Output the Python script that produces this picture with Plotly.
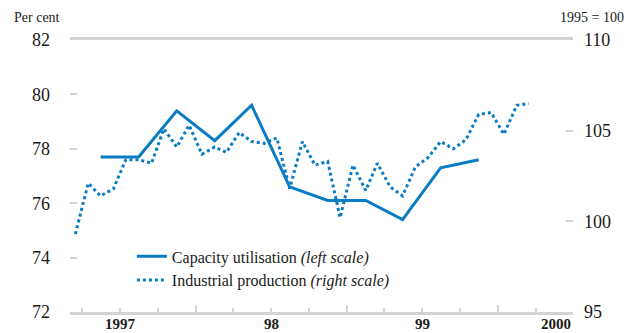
import plotly.graph_objects as go

# capacity utilisation, per cent, quarterly (mid-quarter)
cap_dates = ["1997-05-15", "1997-08-15", "1997-11-15",
             "1998-02-15", "1998-05-15", "1998-08-15", "1998-11-15",
             "1999-02-15", "1999-05-15", "1999-08-15", "1999-11-15"]
cap_vals = [77.7, 77.7, 79.4, 78.3, 79.6, 76.6, 76.1, 76.1, 75.4, 77.3, 77.6]

# industrial production, 1995 = 100, monthly
ind_dates = ["1997-%02d-15" % m for m in range(3, 13)] + \
            ["1998-%02d-15" % m for m in range(1, 13)] + \
            ["1999-%02d-15" % m for m in range(1, 13)] + \
            ["2000-%02d-15" % m for m in range(1, 4)]
ind_vals = [99.3, 102.1, 101.4, 101.8, 103.4, 103.4, 103.2, 105.1, 104.1, 105.3,
            103.7, 104.1, 103.8, 104.9, 104.4, 104.3, 104.6, 101.8, 104.4, 103.1, 103.3, 100.2,
            103.1, 101.7, 103.2, 101.9, 101.4, 103.0, 103.5, 104.4, 104.0, 104.5, 105.9, 106.0,
            104.8, 106.4, 106.5]

year_labels = ["1997", "98", "99", "2000"]
year_label_pos = ["1997-07-02", "1998-07-02", "1999-07-02", "2000-06-30"]
year_ticks = ["1998-01-01", "1999-01-01", "2000-01-01"]

blue = "#0a7cc4"
grey = "#d3d3d3"
ink = "#1a1a1a"
serif = "Liberation Serif"

fig = go.Figure()
fig.add_trace(go.Scatter(x=cap_dates, y=cap_vals, mode="lines",
                         name="Capacity utilisation <i>(left scale)</i>",
                         line=dict(color=blue, width=3)))
fig.add_trace(go.Scatter(x=ind_dates, y=ind_vals, mode="lines", yaxis="y2",
                         name="Industrial production <i>(right scale)</i>",
                         line=dict(color=blue, width=3, dash="dot")))

fig.update_layout(
    width=629, height=333,
    margin=dict(l=70, r=56, t=40, b=21),
    plot_bgcolor="white", paper_bgcolor="white",
    font=dict(family=serif, color=ink),
    xaxis=dict(
        type="date", range=["1997-03-02", "2000-06-30"],
        tickvals=year_ticks, showticklabels=False,
        ticks="inside", ticklen=7, tickwidth=1.5, tickcolor=grey,
        minor=dict(dtick="M3", tick0="1997-01-01", ticks="inside", ticklen=4,
                   tickwidth=1.5, tickcolor=grey, showgrid=False),
        showline=True, linecolor=grey, linewidth=2.5, mirror=True,
        showgrid=False, zeroline=False,
    ),
    yaxis=dict(
        range=[72, 82], tickvals=[72, 74, 76, 78, 80, 82],
        ticks="inside", ticklen=7, tickwidth=2, tickcolor=grey,
        ticklabelstandoff=19,
        showgrid=False, zeroline=False, showline=False,
        tickfont=dict(size=18, family=serif, color=ink),
    ),
    yaxis2=dict(
        range=[95, 110], tickvals=[95, 100, 105, 110], overlaying="y", side="right",
        ticks="inside", ticklen=7, tickwidth=2, tickcolor=grey,
        ticklabelstandoff=10,
        showgrid=False, zeroline=False, showline=False,
        tickfont=dict(size=18, family=serif, color=ink),
    ),
    legend=dict(x=0.123, y=0.267, xanchor="left", yanchor="top",
                bgcolor="rgba(0,0,0,0)", font=dict(size=16, family=serif, color=ink),
                tracegroupgap=7),
    showlegend=True,
)

for lab, pos in zip(year_labels, year_label_pos):
    fig.add_annotation(x=pos, y=0, xref="x", yref="paper", text="<b>%s</b>" % lab,
                       showarrow=False, yanchor="top", yshift=-2,
                       xanchor="right" if lab == "2000" else "center",
                       font=dict(size=15, family=serif, color=ink))

fig.add_annotation(x=0, y=1, xref="paper", yref="paper", text="Per cent",
                   showarrow=False, xanchor="right", yanchor="bottom",
                   xshift=-8, yshift=13, font=dict(size=14, family=serif, color=ink))
fig.add_annotation(x=1, y=1, xref="paper", yref="paper", text="1995 = 100",
                   showarrow=False, xanchor="right", yanchor="bottom",
                   xshift=53, yshift=13, font=dict(size=14, family=serif, color=ink))

fig.write_html("out.html", config={"displayModeBar": False},
               post_script="document.body.style.margin='0';")
